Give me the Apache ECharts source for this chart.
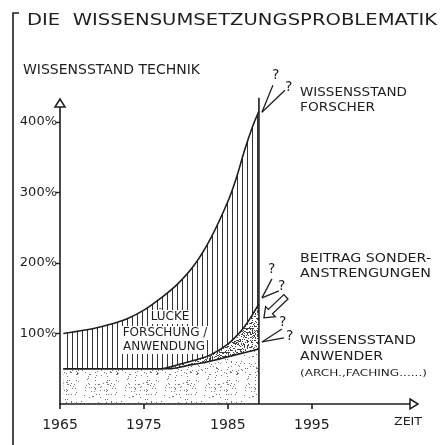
<!DOCTYPE html>
<html>
<head>
<meta charset="utf-8">
<script src="https://cdn.jsdelivr.net/npm/echarts@6/dist/echarts.min.js"></script>
<style>
  html, body { margin: 0; padding: 0; background: #fff; }
  #chart { width: 443px; height: 445px; }
</style>
</head>
<body>
<div id="chart"></div>
<script>
// Wissensstand in % ueber die Zeit
const forscherJahre = [1965.4, 1967, 1969, 1971, 1973, 1975, 1977, 1979, 1981, 1983, 1985, 1986, 1987, 1988, 1988.7];
const forscherWerte = [100, 103, 107, 113, 121, 133, 150, 170, 197, 236, 287, 320, 360, 395, 415];
const sonderJahre = [1965.4, 1977, 1978.5, 1981, 1983, 1985, 1986.3, 1987.3, 1988.7];
const sonderWerte = [50, 50, 54, 62, 70, 85, 100, 115, 142];
const anwenderJahre = [1965.4, 1978, 1980, 1983, 1986, 1988.7];
const anwenderWerte = [50, 50, 54, 61, 70, 78];
const zeitTicks = [1965, 1975, 1985, 1995];
const prozentTicks = [100, 200, 300, 400];
const endJahr = 1988.7;
const grenzeWerte = [0, 434];

const ink = '#1e1e1e';
const font = 'DejaVu Sans';

function paare(xs, ys) {
  return xs.map((x, i) => [x, ys[i]]);
}

// senkrechte Schraffur
function schraffur() {
  const c = document.createElement('canvas');
  c.width = 5; c.height = 4;
  const g = c.getContext('2d');
  g.fillStyle = '#fff'; g.fillRect(0, 0, 5, 4);
  g.fillStyle = '#333'; g.fillRect(2, 0, 1, 4);
  return c;
}

// Punktraster (fest, kein Zufall)
function punkte(size, count, color, seed) {
  const c = document.createElement('canvas');
  c.width = size; c.height = size;
  const g = c.getContext('2d');
  g.fillStyle = '#fff'; g.fillRect(0, 0, size, size);
  g.fillStyle = color;
  let s = seed;
  for (let i = 0; i < count; i++) {
    s = (Math.imul(s, 1664525) + 1013904223) >>> 0;
    const x = (s >>> 16) % size;
    s = (Math.imul(s, 1664525) + 1013904223) >>> 0;
    const y = (s >>> 16) % size;
    g.fillRect(x, y, 1, 1);
  }
  return c;
}

function textBreite(text, size) {
  const g = document.createElement('canvas').getContext('2d');
  g.font = size + 'px "' + font + '"';
  return g.measureText(text).width;
}

function txt(x, y, text, size, breite) {
  const sx = breite ? breite / textBreite(text, size) : 1;
  return {
    type: 'text', x: x, y: y, scaleX: sx, silent: true, z: 20,
    style: {
      text: text, fill: ink, font: size + 'px "' + font + '"',
      textAlign: 'left', textVerticalAlign: 'middle', align: 'left', verticalAlign: 'middle'
    }
  };
}

const chart = echarts.init(document.getElementById('chart'));

chart.setOption({
  animation: false,
  backgroundColor: '#fff',
  grid: { left: 60, right: 33, top: 107, bottom: 41, containLabel: false },
  xAxis: {
    type: 'value', min: 1965, max: 2006.7, z: 10,
    axisLine: { lineStyle: { color: ink, width: 1.6 } },
    axisTick: { customValues: zeitTicks, length: 5, lineStyle: { color: ink, width: 1.6 } },
    axisLabel: { customValues: zeitTicks, formatter: v => String(v), color: ink, fontFamily: font, fontSize: 14, margin: 14 },
    splitLine: { show: false }
  },
  yAxis: {
    type: 'value', min: 0, max: 421, z: 10,
    axisLine: { show: true, lineStyle: { color: ink, width: 1.6 } },
    axisTick: { show: true, customValues: prozentTicks, length: 4, lineStyle: { color: ink, width: 1.4 } },
    axisLabel: { customValues: prozentTicks, formatter: '{value}%', color: ink, fontFamily: font, fontSize: 13, margin: 3 },
    splitLine: { show: false }
  },
  series: [
    {
      name: 'Wissensstand Forscher', type: 'line',
      data: paare(forscherJahre, forscherWerte),
      smooth: 0.35, showSymbol: false,
      lineStyle: { color: ink, width: 1.6 },
      areaStyle: { color: { image: schraffur(), repeat: 'repeat' }, opacity: 1 }
    },
    {
      name: 'Beitrag Sonderanstrengungen', type: 'line',
      data: paare(sonderJahre, sonderWerte),
      smooth: 0.35, showSymbol: false,
      lineStyle: { color: ink, width: 1.6 },
      areaStyle: { color: { image: punkte(24, 230, '#444', 7), repeat: 'repeat' }, opacity: 1 }
    },
    {
      name: 'Wissensstand Anwender', type: 'line',
      data: paare(anwenderJahre, anwenderWerte),
      smooth: 0.35, showSymbol: false,
      lineStyle: { color: ink, width: 1.6 },
      areaStyle: { color: { image: punkte(40, 110, '#777', 3), repeat: 'repeat' }, opacity: 1 }
    },
    {
      name: 'Heute', type: 'line', clip: false, z: 5,
      data: grenzeWerte.map(v => [endJahr, v]),
      showSymbol: false, silent: true,
      lineStyle: { color: ink, width: 1.6 }
    }
  ]
});

// Beschriftungen und Pfeile
const px = (p) => chart.convertToPixel({ gridIndex: 0 }, p);
const xEnde = px([2006.7, 0]);
const yEnde = px([1965, 421]);
const fEnde = px([endJahr, forscherWerte[forscherWerte.length - 1]]);
const sEnde = px([endJahr, sonderWerte[sonderWerte.length - 1]]);
const aEnde = px([endJahr, anwenderWerte[anwenderWerte.length - 1]]);

const strich = { stroke: ink, lineWidth: 1.3, fill: null };

function zeiger(ox, oy, enden, fragen) {
  const els = [];
  enden.forEach(e => els.push({
    type: 'line', silent: true, z: 20,
    shape: { x1: ox, y1: oy, x2: ox + e[0], y2: oy + e[1] }, style: strich
  }));
  fragen.forEach(f => els.push(txt(ox + f[0] - 4, oy + f[1], '?', 14)));
  return els;
}

// Hohlpfeil (Beitrag Sonderanstrengungen)
function hohlpfeil(x1, y1, x2, y2) {
  const dx = x2 - x1, dy = y2 - y1, L = Math.hypot(dx, dy);
  const ux = dx / L, uy = dy / L, vx = -uy, vy = ux;
  const loc = [[0, -3], [L - 9, -3], [L - 9, -7], [L, 0], [L - 9, 7], [L - 9, 3], [0, 3]];
  return {
    type: 'polygon', silent: true, z: 20,
    shape: { points: loc.map(p => [x1 + p[0] * ux + p[1] * vx, y1 + p[0] * uy + p[1] * vy]) },
    style: { stroke: ink, lineWidth: 1.3, fill: '#fff' }
  };
}

function lueckeText(x, y, t) {
  const e = txt(x, y, t, 12);
  e.style.textAlign = 'center'; e.style.align = 'center';
  e.style.backgroundColor = '#fff'; e.style.padding = [1, 2];
  return e;
}

const elemente = [
  { type: 'polyline', silent: true, shape: { points: [[19, 13], [13, 13], [13, 445]] }, style: { stroke: ink, lineWidth: 1.6, fill: null } },
  txt(27, 21, 'DIE  WISSENSUMSETZUNGSPROBLEMATIK', 16.5, 410),
  txt(23, 70, 'WISSENSSTAND TECHNIK', 14, 177),
  txt(300, 93, 'WISSENSSTAND', 13, 107),
  txt(300, 108, 'FORSCHER', 13, 75),
  txt(300, 259, 'BEITRAG SONDER-', 13, 131),
  txt(300, 274, 'ANSTRENGUNGEN', 13, 131),
  txt(300, 341, 'WISSENSSTAND', 13, 116),
  txt(300, 357, 'ANWENDER', 13, 83),
  txt(300, 374, '(ARCH.,FACHING......)', 9, 127),
  txt(394, 422, 'ZEIT', 11, 28),
  lueckeText(170, 317, 'LÜCKE'),
  lueckeText(165, 333, 'FORSCHUNG /'),
  lueckeText(164, 347, 'ANWENDUNG'),
  // Achsenpfeile
  { type: 'polygon', silent: true, z: 20, shape: { points: [[xEnde[0], xEnde[1] - 5], [xEnde[0] + 8, xEnde[1]], [xEnde[0], xEnde[1] + 5]] }, style: { stroke: ink, lineWidth: 1.5, fill: '#fff' } },
  { type: 'polygon', silent: true, z: 20, shape: { points: [[yEnde[0] - 5, yEnde[1]], [yEnde[0], yEnde[1] - 8], [yEnde[0] + 5, yEnde[1]]] }, style: { stroke: ink, lineWidth: 1.5, fill: '#fff' } },
  hohlpfeil(sEnde[0] + 27, sEnde[1] - 7, sEnde[0] + 5, sEnde[1] + 14)
]
  .concat(zeiger(fEnde[0] + 3, fEnde[1] + 1, [[11, -27], [23, -22]], [[14, -37], [27, -25]]))
  .concat(zeiger(sEnde[0] + 3, sEnde[1] - 6, [[10, -19], [17, -7]], [[10, -28], [20, -11]]))
  .concat(zeiger(aEnde[0] + 3, aEnde[1] - 7, [[20, -13], [22, -4]], [[21, -20], [28, -6]]));

chart.setOption({ graphic: { elements: elemente } });
</script>
</body>
</html>
